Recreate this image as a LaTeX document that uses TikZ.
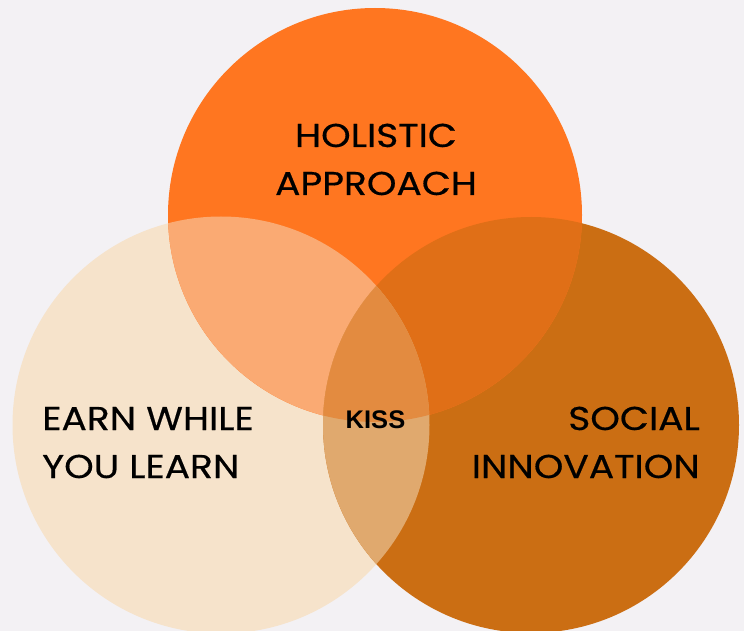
\documentclass[tikz,border=0pt]{standalone}
\usepackage{fontspec}
\setmainfont{Poppins}[FakeStretch=1.14, FakeBold=0.5]
\newfontfamily\kissfont{Liberation Sans}
\definecolor{bgc}{HTML}{F3F1F4}
\definecolor{topc}{HTML}{FF7620}
\definecolor{leftc}{HTML}{F6E3CB}
\definecolor{rightc}{HTML}{CB6E13}
\definecolor{tlc}{HTML}{FAAA73}
\definecolor{trc}{HTML}{E06F17}
\definecolor{lrc}{HTML}{E0A96E}
\definecolor{allc}{HTML}{E38B40}
\begin{document}
\begin{tikzpicture}[x=1pt,y=-1pt,
  lbl/.style={font=\fontsize{33}{40}\selectfont, text=black, inner sep=0pt},
  kiss/.style={font=\kissfont\bfseries\fontsize{25.5}{30}\selectfont, text=black, inner sep=0pt}]
\path[use as bounding box, fill=bgc] (0,0) rectangle (744,631);
\def\topcirc{(375,215) circle[radius=207]}
\def\leftcirc{(221,425) circle[radius=208.5]}
\def\rightcirc{(531,425) circle[radius=208]}
\fill[leftc] \leftcirc;
\fill[rightc] \rightcirc;
\fill[topc] \topcirc;
\begin{scope}
  \clip \topcirc;
  \fill[tlc] \leftcirc;
  \fill[trc] \rightcirc;
\end{scope}
\begin{scope}
  \clip \leftcirc;
  \fill[lrc] \rightcirc;
  \clip \rightcirc;
  \fill[allc] \topcirc;
\end{scope}
\node[lbl, anchor=base] (h1) at (376,147) {HOLISTIC};
\node[lbl, anchor=base] (h2) at (376,195) {APPROACH};
\node[lbl, anchor=base west] (e1) at (42,430) {EARN WHILE};
\node[lbl, anchor=base west] (e2) at (42,478) {YOU LEARN};
\node[lbl, anchor=base east] (s1) at (700,430) {SOCIAL};
\node[lbl, anchor=base east] (s2) at (700,478) {INNOVATION};
\node[kiss, anchor=base] (k) at (375.5,428) {KISS};
\end{tikzpicture}
\end{document}
